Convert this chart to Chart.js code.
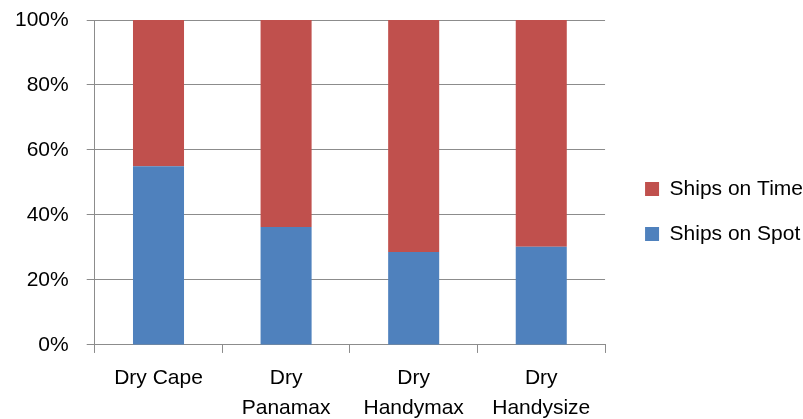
<!DOCTYPE html>
<html>
<head>
<meta charset="utf-8">
<script src="https://cdn.jsdelivr.net/npm/chart.js@4/dist/chart.umd.min.js"></script>
<style>
  html, body { margin: 0; padding: 0; background: #fff; }
  #wrap { width: 803px; height: 419px; }
</style>
</head>
<body>
<div id="wrap"><canvas id="myChart"></canvas></div>
<script>
// categories (multi-line labels) and % share of each fleet
var categorias = [['Dry Cape'], ['Dry', 'Panamax'], ['Dry', 'Handymax'], ['Dry', 'Handysize']];
var ShipsOnSpot = [55, 36.3, 28.6, 30.2];
var ShipsOnTime = [45, 63.7, 71.4, 69.8];
var yTicks = [0, 20, 40, 60, 80, 100];

var cinza = '#8c8c8c';
var fonte = { family: '"Liberation Sans", Arial, sans-serif', size: 21 };

var ctx = document.getElementById('myChart');

var myChart = new Chart(ctx, {
    type: 'bar',
    data: {
        labels: categorias,
        datasets: [{
            label: 'Ships on Spot',
            data: ShipsOnSpot,
            backgroundColor: '#4f81bd',
            borderWidth: 0,
            barPercentage: 0.4,
            categoryPercentage: 1
        }, {
            label: 'Ships on Time',
            data: ShipsOnTime,
            backgroundColor: '#c0504d',
            borderWidth: 0,
            barPercentage: 0.4,
            categoryPercentage: 1
        }]
    },
    options: {
        responsive: true,
        maintainAspectRatio: false,
        animation: false,
        layout: { padding: { left: -3, top: -10, right: -10, bottom: -14 } },
        plugins: {
            tooltip: { enabled: false },
            legend: {
                position: 'right',
                reverse: true,
                maxWidth: 220,
                labels: {
                    boxWidth: 14,
                    boxHeight: 14,
                    padding: 24,
                    color: '#000',
                    font: fonte
                }
            }
        },
        scales: {
            x: {
                stacked: true,
                grid: { display: true, drawOnChartArea: false, offset: true, tickLength: 8, color: cinza },
                border: { display: true, color: cinza },
                ticks: { color: '#000', font: Object.assign({ lineHeight: 1.43 }, fonte), padding: 10, maxRotation: 0 }
            },
            y: {
                stacked: true,
                min: 0,
                max: 100,
                afterBuildTicks: function (axis) {
                    axis.ticks = yTicks.map(function (v) { return { value: v }; });
                },
                // tick padding would otherwise push the plot top down
                afterFit: function (axis) { axis.paddingTop = 20; },
                grid: { color: cinza, tickLength: 8 },
                border: { display: true, color: cinza },
                ticks: {
                    color: '#000',
                    font: fonte,
                    padding: 18,
                    callback: function (v) { return v + '%'; }
                }
            },
            espaco: {
                // empty axis, only keeps a gap between the plot and the legend
                position: 'right',
                display: true,
                grid: { display: false },
                border: { display: false },
                ticks: { display: false },
                afterFit: function (axis) { axis.width = 16; }
            }
        }
    }
});
</script>
</body>
</html>
